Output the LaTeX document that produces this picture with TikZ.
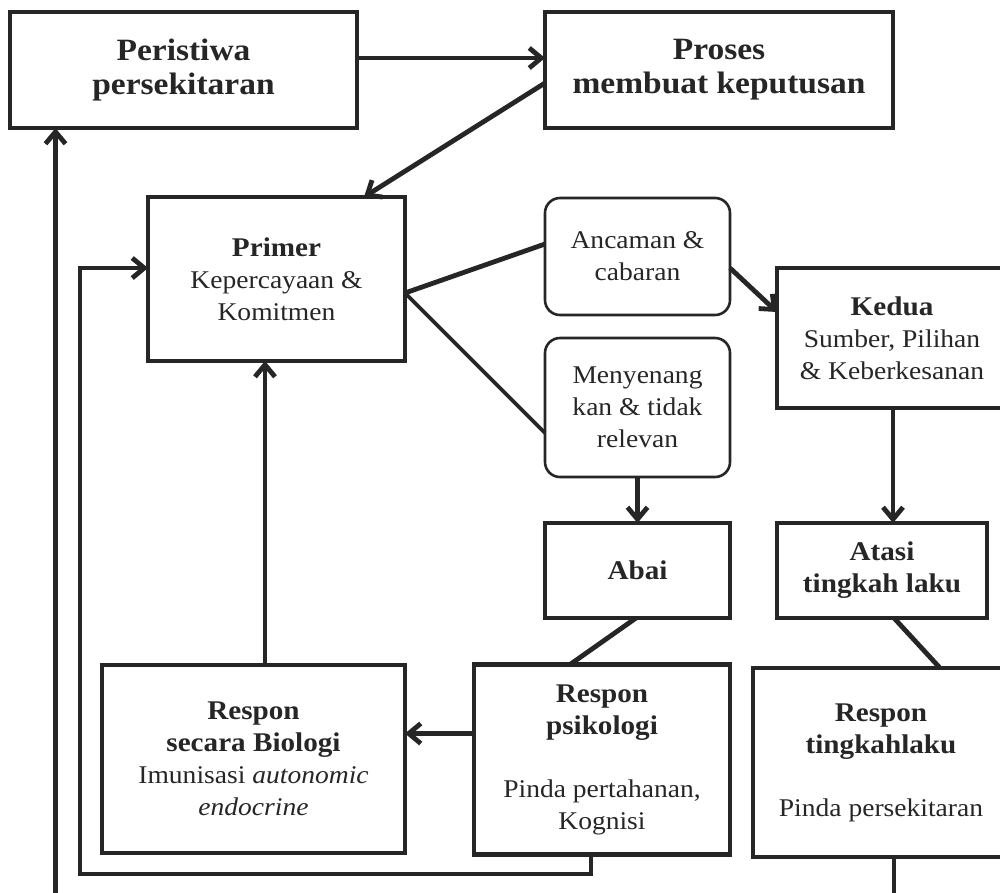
\documentclass[tikz,border=0pt]{standalone}
\usepackage{fontspec}
\setmainfont[FakeStretch=1.08]{Liberation Serif}
\usetikzlibrary{arrows.meta}
\definecolor{ink}{HTML}{262626}
\newcommand\tbold[1]{{\fontsize{27}{32}\selectfont\bfseries #1}}
\begin{document}
\begin{tikzpicture}[x=1pt,y=-1pt,
  every node/.style={inner sep=0pt,outer sep=0pt,align=center,text=ink},
  bigbox/.style={draw=ink,line width=4.8pt,font=\fontsize{31}{34}\selectfont\bfseries},
  box/.style={draw=ink,line width=4.8pt,font=\fontsize{25.5}{32}\selectfont},
  rbox/.style={draw=ink,line width=2.6pt,rounded corners=15pt,font=\fontsize{25.5}{32}\selectfont},
  conn/.style={draw=ink,line width=4.8pt},
  thinconn/.style={draw=ink,line width=3.6pt},
  arr/.style={conn,-{Straight Barb[length=12pt,width=20pt]}}
]
\useasboundingbox (0,0) rectangle (1000,892);
\clip (0,0) rectangle (1000,892);
\fill[white] (0,0) rectangle (1000,892);

\node[bigbox,minimum width=347pt,minimum height=116pt] (per) at (183.5,70) {Peristiwa\\persekitaran};
\node[bigbox,minimum width=348pt,minimum height=116pt] (pro) at (719,70) {Proses\\membuat keputusan};
\node[box,minimum width=257pt,minimum height=164pt] (pri) at (276.5,279) {\tbold{Primer}\\Kepercayaan \&\\Komitmen};
\node[rbox,minimum width=185pt,minimum height=117pt] (anc) at (637.5,256.5) {Ancaman \&\\cabaran};
\node[rbox,minimum width=185pt,minimum height=139pt] (men) at (637.5,407.5) {Menyenang\\kan \& tidak\\relevan};
\node[box,minimum width=230pt,minimum height=140pt] (ked) at (892,338) {\tbold{Kedua}\\Sumber, Pilihan\\\& Keberkesanan};
\node[box,minimum width=185pt,minimum height=95pt] (abai) at (637.5,570.5) {\tbold{Abai}};
\node[box,minimum width=210pt,minimum height=95pt] (ata) at (882,570.5) {\tbold{Atasi}\\\tbold{tingkah laku}};
\node[box,minimum width=303pt,minimum height=188pt] (bio) at (253.5,759) {\tbold{Respon}\\\tbold{secara Biologi}\\Imunisasi \textit{autonomic}\\\textit{endocrine}};
\node[box,minimum width=256pt,minimum height=190pt] (psi) at (602,759.5) {\tbold{Respon}\\\tbold{psikologi}\\[31pt]Pinda pertahanan,\\Kognisi};
\node[box,minimum width=256pt,minimum height=189pt] (tin) at (881,762.5) {\tbold{Respon}\\\tbold{tingkahlaku}\\[31pt]Pinda persekitaran};

\coordinate (loopL) at (80,874);
\coordinate (outB) at (55.5,900);
\coordinate (tinB) at (894,900);

\draw[arr] ([yshift=12pt]per.east) -- ([yshift=12pt]pro.west);
\draw[arr] ([yshift=-13pt]pro.west) -- ([xshift=87.5pt]pri.north);
\draw[conn] ([yshift=-14pt]pri.east) -- ([yshift=12.5pt]anc.west);
\draw[thinconn] ([yshift=-14pt]pri.east) -- ([yshift=-25.5pt]men.west);
\draw[arr] ([yshift=-11.5pt]anc.east) -- ([yshift=26pt]ked.west);
\draw[arr] (men.south) -- (abai.north);
\draw[arr] ([xshift=1pt]ked.south) -- ([xshift=1pt]ked.south |- ata.north);
\draw[conn] ([xshift=-1.5pt]abai.south) -- ([xshift=-32pt]psi.north);
\draw[conn] ([xshift=12pt]ata.south) -- ([xshift=59pt]tin.north);
\draw[arr] ([yshift=26pt]psi.west) -- ([yshift=26pt]psi.west -| bio.east);
\draw[arr] ([xshift=11.5pt]bio.north) -- ([xshift=11.5pt]bio.north |- pri.south);
\draw[conn,-{Straight Barb[length=12pt,width=20pt]}] ([xshift=-11pt]psi.south) |- (loopL) |- ([yshift=11pt]pri.west);
\draw[arr] (outB) -- (outB |- per.south);
\draw[conn] ([xshift=13pt]tin.south) -- (tinB);
\end{tikzpicture}
\end{document}
